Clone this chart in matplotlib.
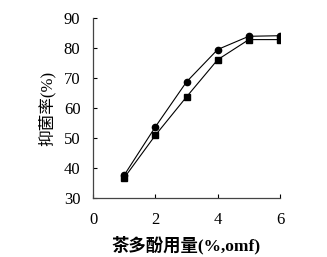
import matplotlib
matplotlib.use("Agg")
import matplotlib.pyplot as plt

# data
dose = [1, 2, 3, 4, 5, 6]
rate_circle = [37.6, 53.7, 68.7, 79.5, 83.9, 84.1]
rate_square = [36.7, 50.9, 63.7, 76.1, 82.8, 82.8]
xticks = [0, 2, 4, 6]
yticks = [30, 40, 50, 60, 70, 80, 90]

plt.rcParams['font.family'] = ['Liberation Serif', 'Noto Sans CJK SC']

fig = plt.figure(figsize=(3.27, 2.57), dpi=100)
ax = fig.add_axes([93/327, 59/257, 187/327, 180/257])

ax.plot(dose, rate_circle, color='black', lw=0.8, marker='o', ms=4.5)
ax.plot(dose, rate_square, color='black', lw=0.8, marker='s', ms=4.2)

ax.set_xlim(0, 6)
ax.set_ylim(30, 90)
ax.set_xticks(xticks)
ax.set_yticks(yticks)
ax.tick_params(direction='in', length=3, width=0.8, labelsize=12)
ax.tick_params(axis='x', pad=10)
ax.tick_params(axis='y', pad=9)

for s in ['top', 'right']:
    ax.spines[s].set_visible(False)
for s in ['left', 'bottom']:
    ax.spines[s].set_color('#444444')
    ax.spines[s].set_linewidth(0.9)

ax.set_xlabel('茶多酚用量(%,omf)', fontsize=12.5, fontweight='bold', labelpad=6)
ax.set_ylabel('抑菌率(%)', fontsize=12, labelpad=6)

fig.savefig('out.png', dpi=100)
